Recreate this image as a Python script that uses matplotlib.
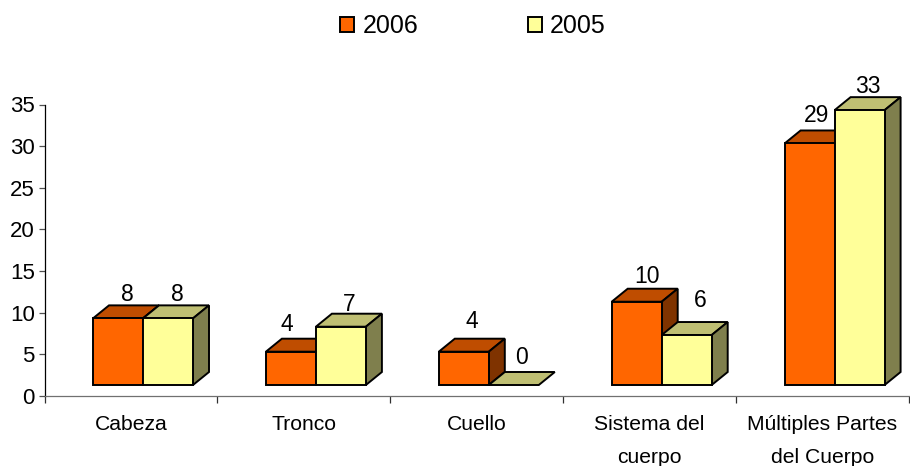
import matplotlib
matplotlib.use('Agg')
import matplotlib.pyplot as plt
from matplotlib.patches import Patch

plt.rcParams['font.family'] = ['Liberation Sans', 'DejaVu Sans']

categories = ['Cabeza', 'Tronco', 'Cuello', 'Sistema del\ncuerpo', 'Múltiples Partes\ndel Cuerpo']
values_2006 = [8, 4, 4, 10, 29]
values_2005 = [8, 7, 0, 6, 33]
y_ticks = [0, 5, 10, 15, 20, 25, 30, 35]

# hand nudges for data labels, in pixels (x, baseline above the top of the box)
nudge_2006 = [(1, 4), (-12, 8), (0, 11), (2, 6), (-1, 8)]
nudge_2005 = [(1, 4), (0, 3), (0, 8), (6, 15), (0, 4)]

ORANGE = ('#FF6600', '#BF4D00', '#7F3300')
YELLOW = ('#FFFF99', '#BFBF73', '#7F7F4D')

W, H = 910, 466
LEFT, RIGHT, BOTTOM, TOP = 44.5, 909, 396, 104.5
PX_X = 5.0 / (RIGHT - LEFT)
PX_Y = 35.0 / (BOTTOM - TOP)

bar_w = 50 * PX_X
depth_x = 16 * PX_X
depth_y = 13 * PX_Y
floor = 11 * PX_Y
start = 48.5 * PX_X
lw = 1.4


def draw_box(ax, x, v, colors, zorder):
    front, top, side = colors
    y0 = floor
    y1 = floor + v
    ax.fill([x, x + depth_x, x + bar_w + depth_x, x + bar_w],
            [y1, y1 + depth_y, y1 + depth_y, y1],
            facecolor=top, edgecolor='black', lw=lw, zorder=zorder, clip_on=False)
    if v > 0:
        ax.fill([x + bar_w, x + bar_w + depth_x, x + bar_w + depth_x, x + bar_w],
                [y0, y0 + depth_y, y1 + depth_y, y1],
                facecolor=side, edgecolor='black', lw=lw, zorder=zorder, clip_on=False)
        ax.bar(x, v, bar_w, bottom=y0, align='edge', color=front, edgecolor='black',
               lw=lw, zorder=zorder + 0.1, clip_on=False)


def label_box(ax, x, v, nudge):
    xy = (x + bar_w / 2 + depth_x / 2, floor + v + depth_y)
    ax.annotate(str(v), xy, xytext=(nudge[0] * 0.72, nudge[1] * 0.72),
                textcoords='offset points', ha='center', va='baseline',
                fontsize=16.5, color='black', zorder=10, annotation_clip=False)


def plot_all():
    fig = plt.figure(figsize=(W / 100, H / 100), dpi=100)
    ax = fig.add_axes([LEFT / W, 1 - BOTTOM / H, (RIGHT - LEFT) / W, (BOTTOM - TOP) / H])
    ax.set_xlim(0, 5)
    ax.set_ylim(0, 35)

    for i in range(len(categories)):
        x = i + start
        draw_box(ax, x, values_2006[i], ORANGE, 3)
        draw_box(ax, x + bar_w, values_2005[i], YELLOW, 4)
        label_box(ax, x, values_2006[i], nudge_2006[i])
        label_box(ax, x + bar_w, values_2005[i], nudge_2005[i])

    for s in ('top', 'right'):
        ax.spines[s].set_visible(False)
    ax.spines['left'].set_color('black')
    ax.spines['left'].set_linewidth(0.9)
    ax.spines['bottom'].set_color('#707070')
    ax.spines['bottom'].set_linewidth(0.9)

    ax.set_yticks(y_ticks)
    ax.tick_params(axis='y', length=4.3, width=0.9, color='#505050', labelsize=16, pad=2.6)
    ax.set_xticks(range(6))
    ax.set_xticklabels([])
    ax.tick_params(axis='x', which='major', length=5, width=0.9, color='#303030')
    ax.set_xticks([i + 0.5 for i in range(5)], minor=True)
    ax.set_xticklabels(categories, minor=True, fontsize=15.2, linespacing=1.9, va='top')
    ax.tick_params(axis='x', which='minor', length=0, pad=14)

    handles = [Patch(facecolor=ORANGE[0], edgecolor='black', lw=1.4, label='2006'),
               Patch(facecolor=YELLOW[0], edgecolor='black', lw=1.4, label='2005')]
    fig.legend(handles=handles, loc='center', bbox_to_anchor=(473 / W, 1 - 26 / H), ncol=2,
               frameon=False, fontsize=18, handlelength=0.56, handleheight=0.56,
               handletextpad=0.32, columnspacing=4.4)

    plt.savefig('out.png', dpi=100)


if __name__ == '__main__':
    plot_all()
